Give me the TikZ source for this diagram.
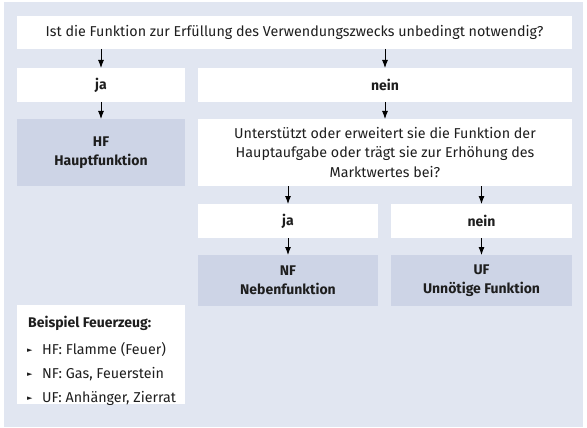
\documentclass[tikz,border=0pt]{standalone}
\usepackage{fontspec}
\setmainfont{Fira Sans}
\newfontfamily\symfont{DejaVu Sans}
\usetikzlibrary{arrows.meta}
\definecolor{bgcol}{RGB}{225,230,241}
\definecolor{fncol}{RGB}{205,212,230}
\definecolor{txtcol}{RGB}{30,30,30}
\begin{document}
\begin{tikzpicture}[x=1pt,y=-1pt,
  box/.style={fill=white,draw=none,inner sep=0pt,outer sep=0pt,align=center,text=txtcol,font=\fontsize{14.3}{19.5}\selectfont},
  boldtxt/.style={font=\fontsize{14}{18.5}\selectfont\bfseries},
  fbox/.style={box,fill=fncol,boldtxt},
  arr/.style={-{Latex[length=8pt,width=6pt]},line width=0.9pt,draw=black}]
\useasboundingbox (0,0) rectangle (587,428);
\fill[white] (0,0) rectangle (587,428);
\fill[bgcol] (4,2) rectangle (583,427);
\node[box,minimum width=555pt,minimum height=33pt] (top) at (294.5,32.5) {Ist die Funktion zur Erfüllung des Verwendungszwecks unbedingt notwendig?};
\node[box,boldtxt,minimum width=168pt,minimum height=34pt] (ja1) at (101,85) {ja};
\node[box,boldtxt,minimum width=374pt,minimum height=34pt] (nein1) at (385,85) {nein};
\node[fbox,minimum width=168pt,minimum height=67pt] (hf) at (101,152.5) {HF\\Hauptfunktion};
\node[box,minimum width=374pt,minimum height=67pt] (q) at (385,152.5) {Unterstützt oder erweitert sie die Funktion der\\Hauptaufgabe oder trägt sie zur Erhöhung des\\Marktwertes bei?};
\node[box,boldtxt,minimum width=180pt,minimum height=34pt] (ja2) at (288,221) {ja};
\node[box,boldtxt,minimum width=181pt,minimum height=34pt] (nein2) at (481.5,221) {nein};
\node[fbox,minimum width=180pt,minimum height=51pt] (nf) at (288,280.5) {NF\\Nebenfunktion};
\node[fbox,minimum width=181pt,minimum height=51pt] (uf) at (481.5,280.5) {UF\\Unnötige Funktion};
\node[box,minimum width=168pt,minimum height=99pt] (leg) at (101,354.5) {};
\node[anchor=base west,inner sep=0pt,text=txtcol,boldtxt] (legt) at (28,327) {Beispiel Feuerzeug:};
\foreach \n/\y/\t in {l1/354/{HF: Flamme (Feuer)},l2/378/{NF: Gas, Feuerstein},l3/402/{UF: Anhänger, Zierrat}}{
  \node[anchor=base west,inner sep=0pt,text=txtcol,font=\fontsize{14.3}{18}\selectfont] (\n) at (42,\y) {\t};
  \node[anchor=base west,inner sep=0pt,text=txtcol,font=\symfont\fontsize{7}{8}\selectfont] (\n b) at (27,\y-2) {►};
}
\draw[arr] (top.south -| ja1.north) -- (ja1.north);
\draw[arr] (top.south -| nein1.north) -- (nein1.north);
\draw[arr] (ja1.south) -- (hf.north);
\draw[arr] (nein1.south) -- (q.north);
\draw[arr] (q.south -| ja2.north) -- (ja2.north);
\draw[arr] (q.south -| nein2.north) -- (nein2.north);
\draw[arr] (ja2.south) -- (nf.north);
\draw[arr] (nein2.south) -- (uf.north);
\end{tikzpicture}
\end{document}
